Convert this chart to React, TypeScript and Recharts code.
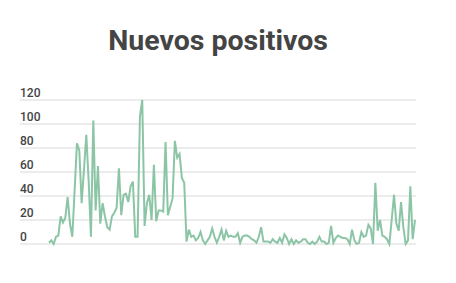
import { LineChart, Line, XAxis, YAxis, CartesianGrid } from "recharts";

// daily new positives
const newCases = [
  1, 3, 0, 6, 7, 23, 18, 22, 39, 17, 6, 45, 84, 78, 34, 62, 91, 53, 6, 103,
  28, 65, 17, 34, 23, 14, 12, 23, 26, 30, 63, 24, 41, 42, 35, 48, 52, 6, 6, 106,
  120, 15, 34, 41, 20, 66, 19, 28, 28, 27, 85, 24, 31, 38, 86, 72, 75, 55, 51, 2,
  12, 6, 7, 3, 5, 10, 3, 0, 3, 6, 13, 6, 1, 6, 12, 3, 11, 6, 7, 6,
  6, 9, 1, 6, 7, 7, 6, 4, 3, 1, 6, 14, 2, 2, 2, 1, 4, 2, 1, 5,
  1, 8, 5, 0, 4, 0, 3, 1, 2, 4, 4, 1, 0, 2, 0, 2, 6, 2, 2, 0,
  1, 15, 1, 5, 7, 6, 5, 5, 4, 0, 12, 3, 0, 1, 10, 6, 7, 16, 13, 0,
  51, 11, 20, 7, 6, 4, 0, 20, 41, 17, 11, 35, 14, 0, 3, 48, 4, 20,
];
const days = newCases.map((_, i) => i + 1);
const yTicks = [0, 20, 40, 60, 80, 100, 120];

const data = days.map((d, i) => ({ day: d, cases: newCases[i] }));

const LEFT = 20;

const YTick = ({ y, payload }: any) => (
  <text x={LEFT} y={y - 3} fill="#444" fontSize={12} fontWeight={500} fontFamily="Roboto" textAnchor="start">
    {payload.value}
  </text>
);

export default function App() {
  return (
    <div style={{ position: "absolute", left: 0, top: 0, width: 456, height: 283, background: "#fff" }}>
      <div
        style={{
          position: "absolute", top: 25, left: LEFT, width: 396, textAlign: "center",
          fontFamily: "Roboto", fontWeight: 700, fontSize: 28.5, lineHeight: "32px", color: "#444",
        }}
      >
        Nuevos positivos
      </div>
      <LineChart width={456} height={283} data={data} margin={{ top: 100, right: 40, left: 0, bottom: 39 }}>
        <CartesianGrid vertical={false} stroke="#d9d9d9" />
        <XAxis dataKey="day" hide padding={{ left: 29, right: 1 }} />
        <YAxis domain={[0, 120]} ticks={yTicks} width={LEFT} axisLine={false} tickLine={false} tick={<YTick />} interval={0} />
        <Line type="linear" dataKey="cases" stroke="#8cc5a6" strokeWidth={2} dot={false} isAnimationActive={false} />
      </LineChart>
    </div>
  );
}
